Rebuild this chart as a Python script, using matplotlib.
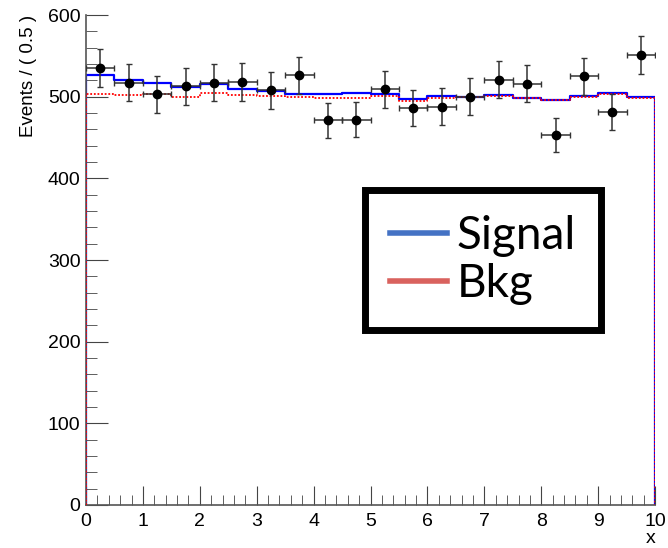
import matplotlib
matplotlib.use("Agg")
import matplotlib.pyplot as plt
from matplotlib.lines import Line2D
from matplotlib.ticker import MultipleLocator
import numpy as np

# 20 bins of width 0.5 over [0, 10]
bin_edges = np.arange(0, 10.5, 0.5)
bin_centers = bin_edges[:-1] + 0.25

# observed counts per bin
data_counts = [535, 517, 503, 513, 517, 518, 508, 526, 471, 472,
               509, 486, 488, 500, 521, 516, 453, 525, 481, 551]

# model projections (signal + background, background only)
total_model = [526, 521, 517, 512, 515, 509, 507, 503, 503, 504,
               503, 497, 501, 500, 502, 499, 496, 501, 504, 500]
bkg_model = [503, 502, 503, 500, 505, 502, 501, 500, 499, 499,
             501, 495, 499, 500, 501, 499, 496, 500, 503, 499]

legend_labels = ["Signal", "Bkg"]


def step_outline(edges, vals):
    xs = np.repeat(edges, 2)
    ys = np.concatenate([[0], np.repeat(vals, 2), [0]])
    return xs, ys


def main():
    plt.rcParams['font.family'] = ['Liberation Sans', 'DejaVu Sans']
    fig = plt.figure(figsize=(6.68, 5.48), dpi=100)
    ax = fig.add_axes([0.1287, 0.0785, 0.852, 0.894])

    xs, ys = step_outline(bin_edges, total_model)
    ax.plot(xs, ys, color='#0000ff', lw=1.6, zorder=2)
    xs, ys = step_outline(bin_edges, bkg_model)
    ax.plot(xs, ys, color='#ff0000', lw=1.3, ls=(0, (1, 1)), zorder=3)

    errs = np.sqrt(data_counts)
    ax.errorbar(bin_centers, data_counts, yerr=errs, xerr=0.25, fmt='o',
                color='black', ecolor='#333333', elinewidth=1.1, capsize=2.5,
                capthick=1, markersize=6, zorder=4)

    ax.set_xlim(0, 10)
    ax.set_ylim(0, 600)
    ax.xaxis.set_major_locator(MultipleLocator(1))
    ax.xaxis.set_minor_locator(MultipleLocator(0.2))
    ax.yaxis.set_major_locator(MultipleLocator(100))
    ax.yaxis.set_minor_locator(MultipleLocator(20))
    ax.tick_params(which='both', direction='in', top=False, right=False,
                   labelsize=14, color='#444444')
    ax.xaxis.set_tick_params(which='major', length=14, pad=6)
    ax.xaxis.set_tick_params(which='minor', length=7)
    ax.yaxis.set_tick_params(which='major', length=16, pad=4)
    ax.yaxis.set_tick_params(which='minor', length=8)
    ax.spines['top'].set_visible(False)
    ax.spines['right'].set_visible(False)
    for s in ('left', 'bottom'):
        ax.spines[s].set_color('#555555')
        ax.spines[s].set_linewidth(1.2)

    ax.set_ylabel('Events / ( 0.5 )', fontsize=13.5, loc='top', labelpad=8)
    ax.set_xlabel('x', fontsize=14, loc='right', labelpad=0)

    handles = [Line2D([], [], color='#4472c4', lw=4),
               Line2D([], [], color='#d9625e', lw=4)]
    leg = ax.legend(handles, legend_labels, loc='upper left',
                    bbox_to_anchor=(0.49, 0.643), borderaxespad=0,
                    prop={'family': ['Lato', 'DejaVu Sans'], 'size': 33},
                    frameon=True, fancybox=False, framealpha=1,
                    handlelength=1.25, handletextpad=0.2,
                    borderpad=0.55, labelspacing=0.12)
    leg.set_zorder(5)
    frame = leg.get_frame()
    frame.set_edgecolor('black')
    frame.set_linewidth(5)

    fig.savefig('out.png', dpi=100)


if __name__ == "__main__":
    main()
